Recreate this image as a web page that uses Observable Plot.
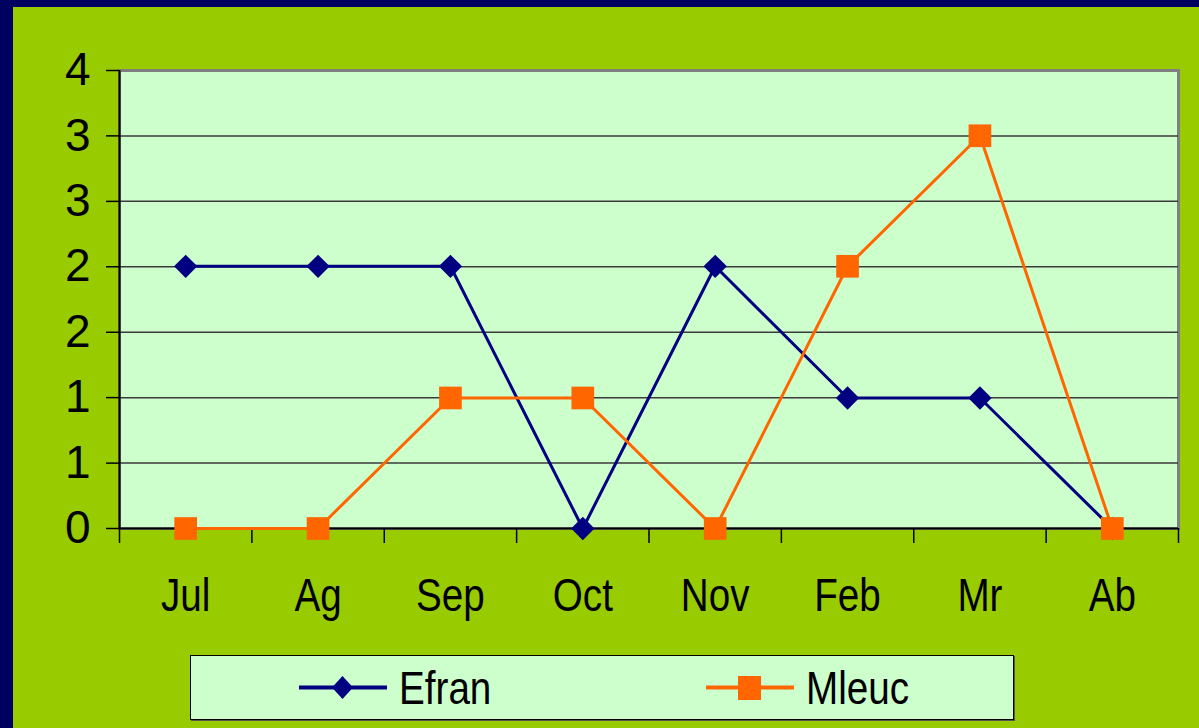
<!DOCTYPE html>
<html>
<head>
<meta charset="utf-8">
<script src="https://cdn.jsdelivr.net/npm/d3@7"></script>
<script src="https://cdn.jsdelivr.net/npm/@observablehq/plot@0.6"></script>
<style>
  html, body { margin: 0; padding: 0; width: 1199px; height: 728px; overflow: hidden; background: #000060; }
  #panel { position: absolute; left: 13px; top: 7px; right: 0; bottom: 0; background: #99CC00; }
  #legend { position: absolute; left: 177px; top: 648px; width: 822px; height: 63px; background: #CCFFCC;
            border: 1px solid #000; box-shadow: 1px 1px 0 #555; font-family: "Liberation Sans", Arial, sans-serif; font-size: 46px; color: #000; }
  .item { position: absolute; top: 0; height: 63px; display: flex; align-items: center; }
  .item svg { display: block; }
  .item span { margin-left: 12px; display: inline-block; transform: scaleX(0.84); transform-origin: left center; }
</style>
</head>
<body>
<div id="panel"><div id="chart"></div>
  <div id="legend"></div>
</div>
<script>
const categories = ["Jul", "Ag", "Sep", "Oct", "Nov", "Feb", "Mr", "Ab"];
const efran = [2.29, 2.29, 2.29, 0, 2.29, 1.14, 1.14, 0];
const mleuc = [0, 0, 1.14, 1.14, 0, 2.29, 3.43, 0];
const seriesNames = ["Efran", "Mleuc"];
const seriesColors = ["#000080", "#FF6600"];
const yTicks = [0, 0.571, 1.143, 1.714, 2.286, 2.857, 3.429, 4];
const yTickLabels = ["0", "1", "1", "2", "2", "3", "3", "4"];

const idx = categories.map((c, i) => i);
const bounds = [-0.5, ...idx.map(i => i + 0.5)];
const efranData = categories.map((c, i) => ({i, v: efran[i]}));
const mleucData = categories.map((c, i) => ({i, v: mleuc[i]}));

const chart = Plot.plot({
  width: 1186,
  height: 640,
  marginLeft: 106,
  marginRight: 21,
  marginTop: 63,
  marginBottom: 119,
  style: {background: "transparent", fontFamily: "'Liberation Sans', Arial, sans-serif", color: "#000", overflow: "visible"},
  x: {type: "linear", domain: [-0.5, 7.5], axis: null},
  y: {domain: [0, 4], axis: null},
  marks: [
    Plot.frame({fill: "#CCFFCC", stroke: "#808080", strokeWidth: 3}),
    Plot.ruleY(yTicks.slice(1, -1), {stroke: "#3a3a3a", strokeWidth: 1.5}),
    Plot.ruleY([0], {stroke: "#000", strokeWidth: 2}),
    Plot.ruleX([-0.5], {stroke: "#000", strokeWidth: 2}),
    Plot.axisY({ticks: yTicks, tickFormat: (d, i) => yTickLabels[i], tickSize: 13, tickPadding: 16, fontSize: 46, stroke: "#000", strokeWidth: 1.5, anchor: "left", label: null}),
    Plot.axisX({ticks: bounds, tickFormat: () => "", tickSize: 15, tickPadding: 0, stroke: "#000", strokeWidth: 1.5, anchor: "bottom", label: null}),
    Plot.axisX({ticks: idx, tickFormat: i => categories[i], tickSize: 0, tickPadding: 50, fontSize: 46, anchor: "bottom", label: null, className: "xlab"}),
    Plot.line(efranData, {x: "i", y: "v", stroke: seriesColors[0], strokeWidth: 3}),
    Plot.dot(efranData, {x: "i", y: "v", symbol: "diamond2", r: 10.5, fill: seriesColors[0], stroke: "none"}),
    Plot.line(mleucData, {x: "i", y: "v", stroke: seriesColors[1], strokeWidth: 3}),
    Plot.dot(mleucData, {x: "i", y: "v", symbol: "square", r: 12.8, fill: seriesColors[1], stroke: "none"})
  ]
});
// condense the category labels horizontally, like the narrow font of the original
chart.querySelectorAll("text").forEach(t => {
  if (categories.includes(t.textContent)) {
    const tr = t.getAttribute("transform") || "";
    t.setAttribute("transform", tr + " scale(0.84,1)");
  }
});
document.getElementById("chart").appendChild(chart);

// Legend
const legend = document.getElementById("legend");
const legendPos = [108, 515];
seriesNames.forEach((name, k) => {
  const item = document.createElement("div");
  item.className = "item";
  item.style.left = legendPos[k] + "px";
  const marker = k === 0
    ? `<path d="M43.5,20 L54,31.5 L43.5,43 L33,31.5 Z" fill="${seriesColors[k]}"/>`
    : `<rect x="32" y="20" width="23" height="24" fill="${seriesColors[k]}"/>`;
  item.innerHTML = `<svg width="88" height="63"><line x1="0" x2="88" y1="31.5" y2="31.5" stroke="${seriesColors[k]}" stroke-width="4"/>${marker}</svg><span>${name}</span>`;
  legend.appendChild(item);
});
</script>
</body>
</html>
